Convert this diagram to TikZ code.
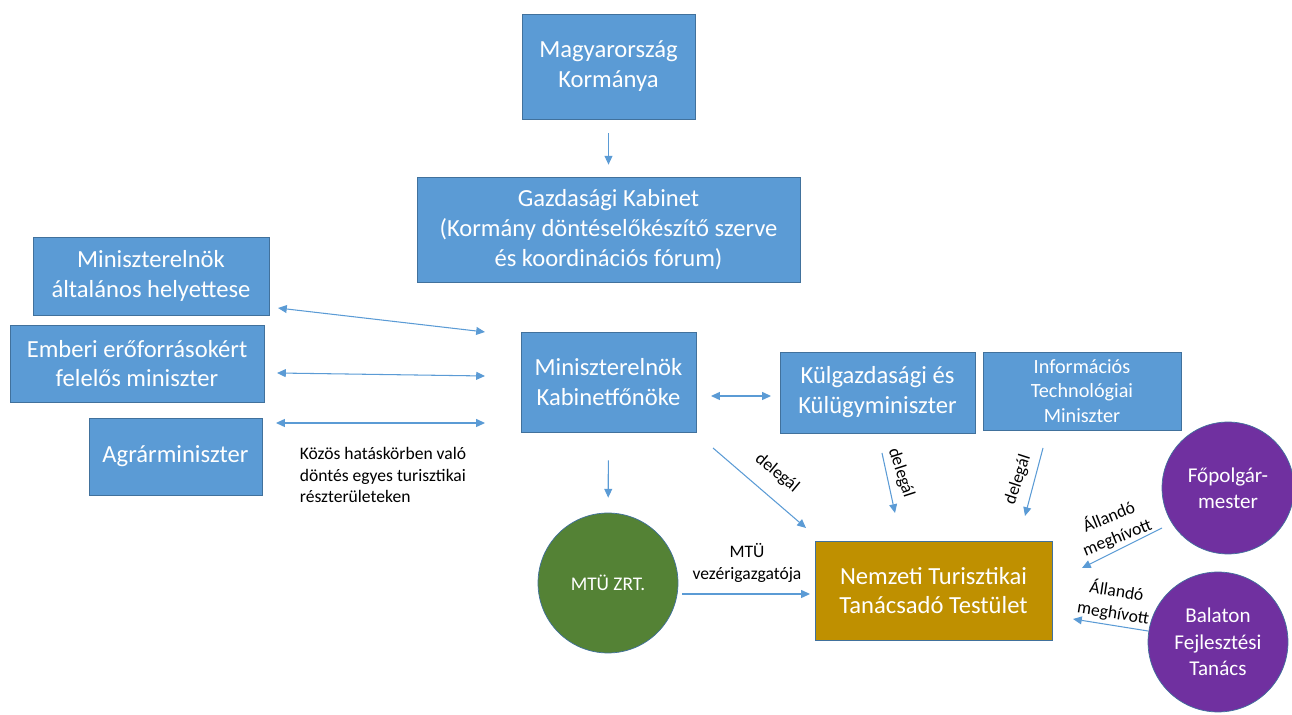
\documentclass[tikz,border=0pt]{standalone}
\usepackage{fontspec}
\setmainfont{Carlito}
\usepackage{tikz}
\usetikzlibrary{arrows.meta, positioning, calc}
\definecolor{orgblue}{RGB}{91,155,213}
\definecolor{orgedge}{RGB}{65,113,156}
\definecolor{orggreen}{RGB}{84,130,53}
\definecolor{orggold}{RGB}{191,144,0}
\definecolor{orgpurple}{RGB}{112,48,160}

\begin{document}
\begin{tikzpicture}[
    x=0.02cm, y=-0.02cm,
    box/.style={draw=orgedge, fill=orgblue, text=white, align=center,
                inner sep=2pt, font=\fontsize{14}{17}\selectfont},
    blob/.style={circle, draw=orgedge, text=white, align=center,
                 inner sep=0pt, font=\fontsize{12}{15}\selectfont},
    lbl/.style={font=\fontsize{10}{12.5}\selectfont, align=center},
    arr/.style={-{Triangle[length=5pt,width=4.5pt]}, line width=0.6pt, orgblue},
    darr/.style={{Triangle[length=5pt,width=4.5pt]}-{Triangle[length=5pt,width=4.5pt]},
                 line width=0.6pt, orgblue}
  ]
    \useasboundingbox (0,0) rectangle (1292,715);

    % boxes
    \node[box, minimum width=3.46cm, minimum height=2.1cm] (korm) at (608.5,66.5)
        {Magyarország\\Kormánya};
    \node[box, minimum width=7.66cm, minimum height=2.1cm] (gazd) at (608.5,229.5)
        {Gazdasági Kabinet\\(Kormány döntéselőkészítő szerve\\és koordinációs fórum)};
    \node[box, minimum width=4.72cm, minimum height=1.56cm] (helyettes) at (151,276)
        {Miniszterelnök\\általános helyettese};
    \node[box, minimum width=5.08cm, minimum height=1.54cm] (emberi) at (137,363.5)
        {Emberi erőforrásokért\\felelős miniszter};
    \node[box, minimum width=3.46cm, minimum height=1.54cm] (agrar) at (175.5,456.5)
        {Agrárminiszter};
    \node[box, minimum width=3.5cm, minimum height=2.0cm] (kabinet) at (608.5,382)
        {Miniszterelnök\\Kabinetfőnöke};
    \node[box, minimum width=3.9cm, minimum height=1.62cm] (kulgazd) at (877.5,392.5)
        {Külgazdasági és\\Külügyminiszter};
    \node[box, minimum width=3.96cm, minimum height=1.56cm,
          font=\fontsize{11.5}{14}\selectfont] (info) at (1082,391)
        {Információs\\Technológiai\\Miniszter};
    \node[box, fill=orggold, minimum width=4.74cm, minimum height=1.98cm] (ntt) at (933.5,590.5)
        {Nemzeti Turisztikai\\Tanácsadó Testület};

    % circles
    \node[blob, fill=orggreen, minimum size=2.8cm,
          font=\fontsize{11}{14}\selectfont] (mtu) at (608,583) {MTÜ ZRT.};
    \node[blob, fill=orgpurple, minimum size=2.64cm] (fopolg) at (1228,488)
        {Főpolgár-\\mester};
    \node[blob, fill=orgpurple, minimum size=2.8cm] (balaton) at (1218,642)
        {Balaton\\Fejlesztési\\Tanács};

    % arrow ends
    \coordinate (h1) at (278,308);  \coordinate (h2) at (485,332);
    \coordinate (e1) at (277,373);  \coordinate (e2) at (485,376);
    \coordinate (a1) at (276,423);  \coordinate (a2) at (485,423);
    \coordinate (k1) at (711,396);  \coordinate (k2) at (771,396);
    \coordinate (d1a) at (713,448); \coordinate (d1b) at (806,528);
    \coordinate (d2a) at (882,453); \coordinate (d2b) at (895,513);
    \coordinate (d3a) at (1043,448); \coordinate (d3b) at (1025,516);
    \coordinate (m1) at (682,594);  \coordinate (m2) at (810,594);
    \coordinate (f1) at (1162,528); \coordinate (f2) at (1082,568);
    \coordinate (b1) at (1148,631); \coordinate (b2) at (1073,619);

    % connectors
    \draw[arr, shorten <=0.28cm, shorten >=0.24cm] (korm) -- (gazd);
    \draw[arr, shorten <=0.56cm, shorten >=0.3cm] (kabinet) -- (mtu);
    \draw[darr] (h1) -- (h2);
    \draw[darr] (e1) -- (e2);
    \draw[darr] (a1) -- (a2);
    \draw[darr] (k1) -- (k2);
    \draw[arr] (d1a) -- (d1b);
    \draw[arr] (d2a) -- (d2b);
    \draw[arr] (d3a) -- (d3b);
    \draw[arr] (m1) -- (m2);
    \draw[arr] (f1) -- (f2);
    \draw[arr] (b1) -- (b2);

    % labels
    \node[lbl, align=left] (kozos) at (383,475)
        {Közös hatáskörben való\\döntés egyes turisztikai\\részterületeken};
    \node[lbl, rotate=-40] (del1) at (777,473) {delegál};
    \node[lbl, rotate=-72] (del2) at (901,473) {delegál};
    \node[lbl, rotate=72] (del3) at (1018,480) {delegál};
    \node[lbl] (vezer) at (747,563) {MTÜ\\vezérigazgatója};
    \node[lbl, rotate=22] (allando1) at (1113,527) {Állandó\\meghívott};
    \node[lbl, rotate=-9] (allando2) at (1115,602) {Állandó\\meghívott};
\end{tikzpicture}
\end{document}
